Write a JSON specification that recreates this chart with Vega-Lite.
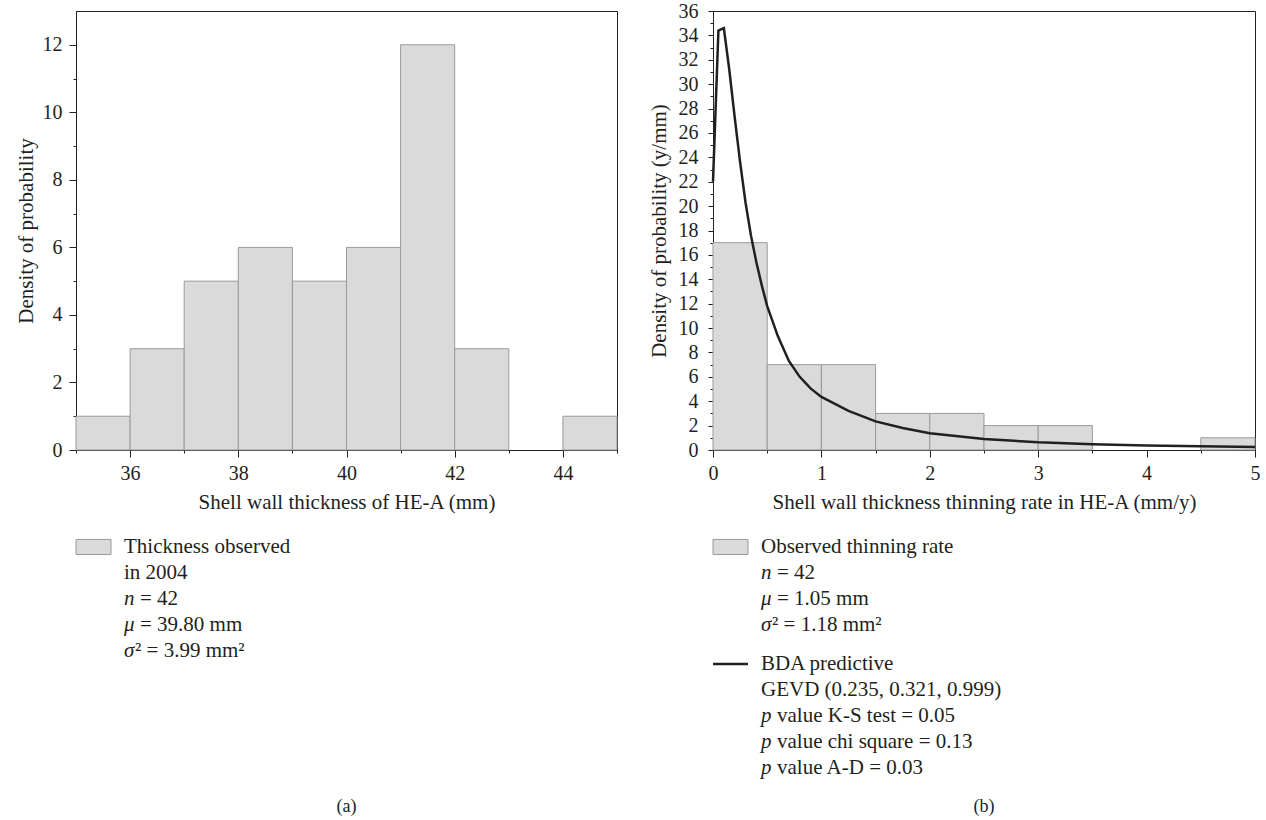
{
  "$schema": "https://vega.github.io/schema/vega-lite/v6.json",
  "background": "white",
  "padding": {"left": 14, "top": 0, "right": 5, "bottom": 0},
  "spacing": 29,
  "config": {
    "font": "Liberation Serif",
    "view": {"stroke": "#231f20", "strokeWidth": 1},
    "axis": {
      "labelFont": "Liberation Serif", "titleFont": "Liberation Serif",
      "labelFontSize": 20, "titleFontSize": 21, "titleFontWeight": "normal",
      "labelColor": "#231f20", "titleColor": "#231f20",
      "domainColor": "#231f20", "tickColor": "#231f20",
      "grid": false, "labelFlush": false, "labelOverlap": false,
      "labelPadding": 6, "titlePadding": 8
    },
    "text": {"font": "Liberation Serif", "fontSize": 21, "color": "#231f20"},
    "title": {"font": "Liberation Serif", "fontSize": 18, "fontWeight": "normal", "color": "#231f20"}
  },
  "hconcat": [
    {
      "spacing": 21,
      "vconcat": [
        {
          "width": 541, "height": 439,
          "data": {"values": [
            {"lo": 35, "hi": 36, "count": 1},
            {"lo": 36, "hi": 37, "count": 3},
            {"lo": 37, "hi": 38, "count": 5},
            {"lo": 38, "hi": 39, "count": 6},
            {"lo": 39, "hi": 40, "count": 5},
            {"lo": 40, "hi": 41, "count": 6},
            {"lo": 41, "hi": 42, "count": 12},
            {"lo": 42, "hi": 43, "count": 3},
            {"lo": 44, "hi": 45, "count": 1}
          ]},
          "layer": [
            {
              "mark": {"type": "rect", "fill": "#dadada", "stroke": "#9a9a9a", "strokeWidth": 1},
              "encoding": {
                "x": {"field": "lo", "type": "quantitative",
                  "scale": {"domain": [35, 45], "nice": false, "zero": false},
                  "axis": {"orient": "bottom", "values": [36, 38, 40, 42, 44], "tickSize": 7, "title": "Shell wall thickness of HE-A (mm)"}},
                "x2": {"field": "hi"},
                "y": {"field": "count", "type": "quantitative",
                  "scale": {"domain": [0, 13], "nice": false},
                  "axis": {"orient": "left", "values": [0, 2, 4, 6, 8, 10, 12], "tickSize": 7, "labelPadding": 7, "title": "Density of probability", "titlePadding": 6}},
                "y2": {"datum": 0}
              }
            },
            {
              "mark": {"type": "rect", "opacity": 0},
              "encoding": {
                "x": {"field": "lo", "type": "quantitative",
                  "axis": {"orient": "bottom", "values": [35, 37, 39, 41, 43, 45], "labels": false, "domain": false, "tickSize": 3, "title": null}},
                "x2": {"field": "hi"},
                "y": {"field": "count", "type": "quantitative",
                  "axis": {"orient": "left", "values": [1, 3, 5, 7, 9, 11], "labels": false, "domain": false, "tickSize": 3, "title": null}},
                "y2": {"datum": 0}
              }
            }
          ],
          "resolve": {"axis": {"x": "independent", "y": "independent"}}
        },
        {
          "width": 541, "height": 247,
          "view": {"stroke": null},
          "title": {"text": "(a)", "orient": "bottom", "anchor": "middle", "offset": 17},
          "data": {"values": [
            {"row": 0, "icon": "hatch", "plain": "Thickness observed"},
            {"row": 1, "plain": "in 2004"},
            {"row": 2, "sym": "n", "rest": "= 42"},
            {"row": 3, "sym": "μ", "rest": "= 39.80 mm"},
            {"row": 4, "sym": "σ", "srest": "² = 3.99 mm²"}
          ]},
          "encoding": {
            "y": {"field": "row", "type": "quantitative", "scale": {"domain": [-0.5, 9], "reverse": true, "nice": false, "zero": false}, "axis": null}
          },
          "layer": [
            {
              "transform": [{"filter": "datum.icon === 'hatch'"}],
              "mark": {"type": "point", "shape": "M-1,-0.43H1V0.43H-1Z", "size": 1225, "filled": true, "fill": "#dadada", "stroke": "#9a9a9a", "strokeWidth": 1, "opacity": 1},
              "encoding": {
                "x": {"datum": 0, "type": "quantitative", "scale": {"domain": [0, 1], "range": [17.5, 48]}, "axis": null}
              }
            },
            {
              "transform": [{"filter": "isValid(datum.plain)"}],
              "mark": {"type": "text", "align": "left", "baseline": "middle"},
              "encoding": {"x": {"datum": 1, "type": "quantitative", "axis": null}, "text": {"field": "plain"}}
            },
            {
              "transform": [{"filter": "isValid(datum.sym)"}],
              "mark": {"type": "text", "align": "left", "baseline": "middle", "fontStyle": "italic"},
              "encoding": {"x": {"datum": 1, "type": "quantitative", "axis": null}, "text": {"field": "sym"}}
            },
            {
              "transform": [{"filter": "isValid(datum.rest)"}],
              "mark": {"type": "text", "align": "left", "baseline": "middle", "dx": 16},
              "encoding": {"x": {"datum": 1, "type": "quantitative", "axis": null}, "text": {"field": "rest"}}
            },
            {
              "transform": [{"filter": "isValid(datum.srest)"}],
              "mark": {"type": "text", "align": "left", "baseline": "middle", "dx": 11},
              "encoding": {"x": {"datum": 1, "type": "quantitative", "axis": null}, "text": {"field": "srest"}}
            }
          ]
        }
      ]
    },
    {
      "spacing": 21,
      "vconcat": [
        {
          "width": 542, "height": 439,
          "layer": [
            {
              "data": {"values": [
                {"lo": 0, "hi": 0.5, "count": 17},
                {"lo": 0.5, "hi": 1, "count": 7},
                {"lo": 1, "hi": 1.5, "count": 7},
                {"lo": 1.5, "hi": 2, "count": 3},
                {"lo": 2, "hi": 2.5, "count": 3},
                {"lo": 2.5, "hi": 3, "count": 2},
                {"lo": 3, "hi": 3.5, "count": 2},
                {"lo": 4.5, "hi": 5, "count": 1}
              ]},
              "mark": {"type": "rect", "fill": "#dadada", "stroke": "#9a9a9a", "strokeWidth": 1},
              "encoding": {
                "x": {"field": "lo", "type": "quantitative",
                  "scale": {"domain": [0, 5], "nice": false, "zero": false},
                  "axis": {"orient": "bottom", "values": [0, 1, 2, 3, 4, 5], "tickSize": 7, "title": "Shell wall thickness thinning rate in HE-A (mm/y)"}},
                "x2": {"field": "hi"},
                "y": {"field": "count", "type": "quantitative",
                  "scale": {"domain": [0, 36], "nice": false},
                  "axis": {"orient": "left", "values": [0, 2, 4, 6, 8, 10, 12, 14, 16, 18, 20, 22, 24, 26, 28, 30, 32, 34, 36], "tickSize": 5, "labelPadding": 10, "title": "Density of probability (y/mm)", "titlePadding": 9}},
                "y2": {"datum": 0}
              }
            },
            {
              "data": {"values": [
                {"lo": 0, "hi": 0.5, "count": 17}
              ]},
              "mark": {"type": "rect", "opacity": 0},
              "encoding": {
                "x": {"field": "lo", "type": "quantitative",
                  "axis": {"orient": "bottom", "values": [0.5, 1.5, 2.5, 3.5, 4.5], "labels": false, "domain": false, "tickSize": 3, "title": null}},
                "x2": {"field": "hi"},
                "y": {"field": "count", "type": "quantitative",
                  "axis": {"orient": "left", "values": [1, 3, 5, 7, 9, 11, 13, 15, 17, 19, 21, 23, 25, 27, 29, 31, 33, 35], "labels": false, "domain": false, "tickSize": 3, "title": null}},
                "y2": {"datum": 0}
              }
            },
            {
              "data": {"values": [
                {"rate": 0, "dens": 22},
                {"rate": 0.05, "dens": 34.4},
                {"rate": 0.1, "dens": 34.6},
                {"rate": 0.15, "dens": 31.2},
                {"rate": 0.2, "dens": 27.3},
                {"rate": 0.25, "dens": 23.6},
                {"rate": 0.3, "dens": 20.3},
                {"rate": 0.35, "dens": 17.6},
                {"rate": 0.4, "dens": 15.4},
                {"rate": 0.45, "dens": 13.5},
                {"rate": 0.5, "dens": 11.8},
                {"rate": 0.6, "dens": 9.3},
                {"rate": 0.7, "dens": 7.3},
                {"rate": 0.8, "dens": 6.0},
                {"rate": 0.9, "dens": 5.05},
                {"rate": 1.0, "dens": 4.35},
                {"rate": 1.25, "dens": 3.2},
                {"rate": 1.5, "dens": 2.35},
                {"rate": 1.75, "dens": 1.8},
                {"rate": 2.0, "dens": 1.38},
                {"rate": 2.5, "dens": 0.9},
                {"rate": 3.0, "dens": 0.63},
                {"rate": 3.5, "dens": 0.47},
                {"rate": 4.0, "dens": 0.37},
                {"rate": 4.5, "dens": 0.3},
                {"rate": 5.0, "dens": 0.24}
              ]},
              "mark": {"type": "line", "color": "#231f20", "strokeWidth": 2.5},
              "encoding": {
                "x": {"field": "rate", "type": "quantitative", "axis": null},
                "y": {"field": "dens", "type": "quantitative", "axis": null}
              }
            }
          ],
          "resolve": {"axis": {"x": "independent", "y": "independent"}}
        },
        {
          "width": 542, "height": 247,
          "view": {"stroke": null},
          "title": {"text": "(b)", "orient": "bottom", "anchor": "middle", "offset": 17},
          "data": {"values": [
            {"row": 0, "icon": "hatch", "plain": "Observed thinning rate"},
            {"row": 1, "sym": "n", "rest": "= 42"},
            {"row": 2, "sym": "μ", "rest": "= 1.05 mm"},
            {"row": 3, "sym": "σ", "srest": "² = 1.18 mm²"},
            {"row": 4.5, "icon": "line", "plain": "BDA predictive"},
            {"row": 5.5, "plain": "GEVD (0.235, 0.321, 0.999)"},
            {"row": 6.5, "sym": "p", "rest": "value K-S test = 0.05"},
            {"row": 7.5, "sym": "p", "rest": "value chi square = 0.13"},
            {"row": 8.5, "sym": "p", "rest": "value A-D = 0.03"}
          ]},
          "encoding": {
            "y": {"field": "row", "type": "quantitative", "scale": {"domain": [-0.5, 9], "reverse": true, "nice": false, "zero": false}, "axis": null}
          },
          "layer": [
            {
              "transform": [{"filter": "datum.icon === 'hatch'"}],
              "mark": {"type": "point", "shape": "M-1,-0.43H1V0.43H-1Z", "size": 1225, "filled": true, "fill": "#dadada", "stroke": "#9a9a9a", "strokeWidth": 1, "opacity": 1},
              "encoding": {
                "x": {"datum": 0, "type": "quantitative", "scale": {"domain": [0, 1], "range": [17.5, 48]}, "axis": null}
              }
            },
            {
              "transform": [{"filter": "datum.icon === 'line'"}],
              "mark": {"type": "point", "shape": "M-1,0H1", "size": 1225, "filled": false, "stroke": "#231f20", "strokeWidth": 2.5, "opacity": 1},
              "encoding": {"x": {"datum": 0, "type": "quantitative", "axis": null}}
            },
            {
              "transform": [{"filter": "isValid(datum.plain)"}],
              "mark": {"type": "text", "align": "left", "baseline": "middle"},
              "encoding": {"x": {"datum": 1, "type": "quantitative", "axis": null}, "text": {"field": "plain"}}
            },
            {
              "transform": [{"filter": "isValid(datum.sym)"}],
              "mark": {"type": "text", "align": "left", "baseline": "middle", "fontStyle": "italic"},
              "encoding": {"x": {"datum": 1, "type": "quantitative", "axis": null}, "text": {"field": "sym"}}
            },
            {
              "transform": [{"filter": "isValid(datum.rest)"}],
              "mark": {"type": "text", "align": "left", "baseline": "middle", "dx": 16},
              "encoding": {"x": {"datum": 1, "type": "quantitative", "axis": null}, "text": {"field": "rest"}}
            },
            {
              "transform": [{"filter": "isValid(datum.srest)"}],
              "mark": {"type": "text", "align": "left", "baseline": "middle", "dx": 11},
              "encoding": {"x": {"datum": 1, "type": "quantitative", "axis": null}, "text": {"field": "srest"}}
            }
          ]
        }
      ]
    }
  ]
}
